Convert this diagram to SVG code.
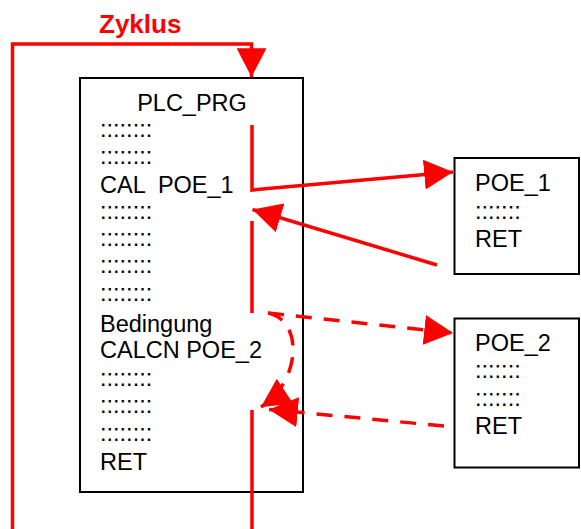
<svg xmlns="http://www.w3.org/2000/svg" width="581" height="529" viewBox="0 0 581 529">
<style>
.box{fill:#fff;stroke:#000;stroke-width:2}
.t{font-family:"Liberation Sans",Arial,sans-serif;font-size:23.5px;fill:#000}
.red{fill:none;stroke:#f00;stroke-width:3.5}
.dash{stroke-dasharray:16 12}
.lbl{font-family:"Liberation Sans",Arial,sans-serif;font-size:26px;font-weight:bold;fill:#f00}
</style>
<defs>
<marker id="ah" markerUnits="userSpaceOnUse" markerWidth="30" markerHeight="30" viewBox="0 0 26 26" refX="25" refY="13" orient="auto">
<path d="M0,0 L25,13 L0,26 Z" fill="#f00"/>
</marker>
</defs>
<rect width="581" height="529" fill="#fff"/>
<g id="main">
<rect class="box" x="80" y="78" width="223" height="414"/>
<text class="t" x="192" y="111" text-anchor="middle">PLC_PRG</text>
<text class="t" x="100" y="137">::::::::</text>
<text class="t" x="100" y="164">::::::::</text>
<text class="t" x="100" y="193" xml:space="preserve">CAL  POE_1</text>
<text class="t" x="100" y="219">::::::::</text>
<text class="t" x="100" y="246">::::::::</text>
<text class="t" x="100" y="273">::::::::</text>
<text class="t" x="100" y="301">::::::::</text>
<text class="t" x="100" y="332">Bedingung</text>
<text class="t" x="100" y="358">CALCN POE_2</text>
<text class="t" x="100" y="386">::::::::</text>
<text class="t" x="100" y="413">::::::::</text>
<text class="t" x="100" y="441">::::::::</text>
<text class="t" x="100" y="470">RET</text>
</g>
<g id="poe1">
<rect class="box" x="454.5" y="158" width="124.5" height="116"/>
<text class="t" x="475" y="191">POE_1</text>
<text class="t" x="475" y="219">:::::::</text>
<text class="t" x="475" y="247">RET</text>
</g>
<g id="poe2">
<rect class="box" x="454.5" y="318.5" width="124.5" height="149"/>
<text class="t" x="475" y="351">POE_2</text>
<text class="t" x="475" y="378">:::::::</text>
<text class="t" x="475" y="406">:::::::</text>
<text class="t" x="475" y="434">RET</text>
</g>
<g id="connectors">
<text class="lbl" x="99" y="33">Zyklus</text>
<path class="red" d="M12.5,529 V44 H251.5 V77" marker-end="url(#ah)"/>
<path class="red" d="M252,125 V190 L453,172" marker-end="url(#ah)"/>
<path class="red" d="M437,265 L252.5,209.5" marker-end="url(#ah)"/>
<path class="red" d="M252,221 V313"/>
<path class="red dash" d="M268,313 L453,333" marker-end="url(#ah)"/>
<path class="red dash" d="M268,313 C303,320 302,380 261,407" marker-end="url(#ah)"/>
<path class="red dash" d="M444,426 L269,409.5" marker-end="url(#ah)"/>
<path class="red" d="M252,410 V529"/>
</g>
</svg>
